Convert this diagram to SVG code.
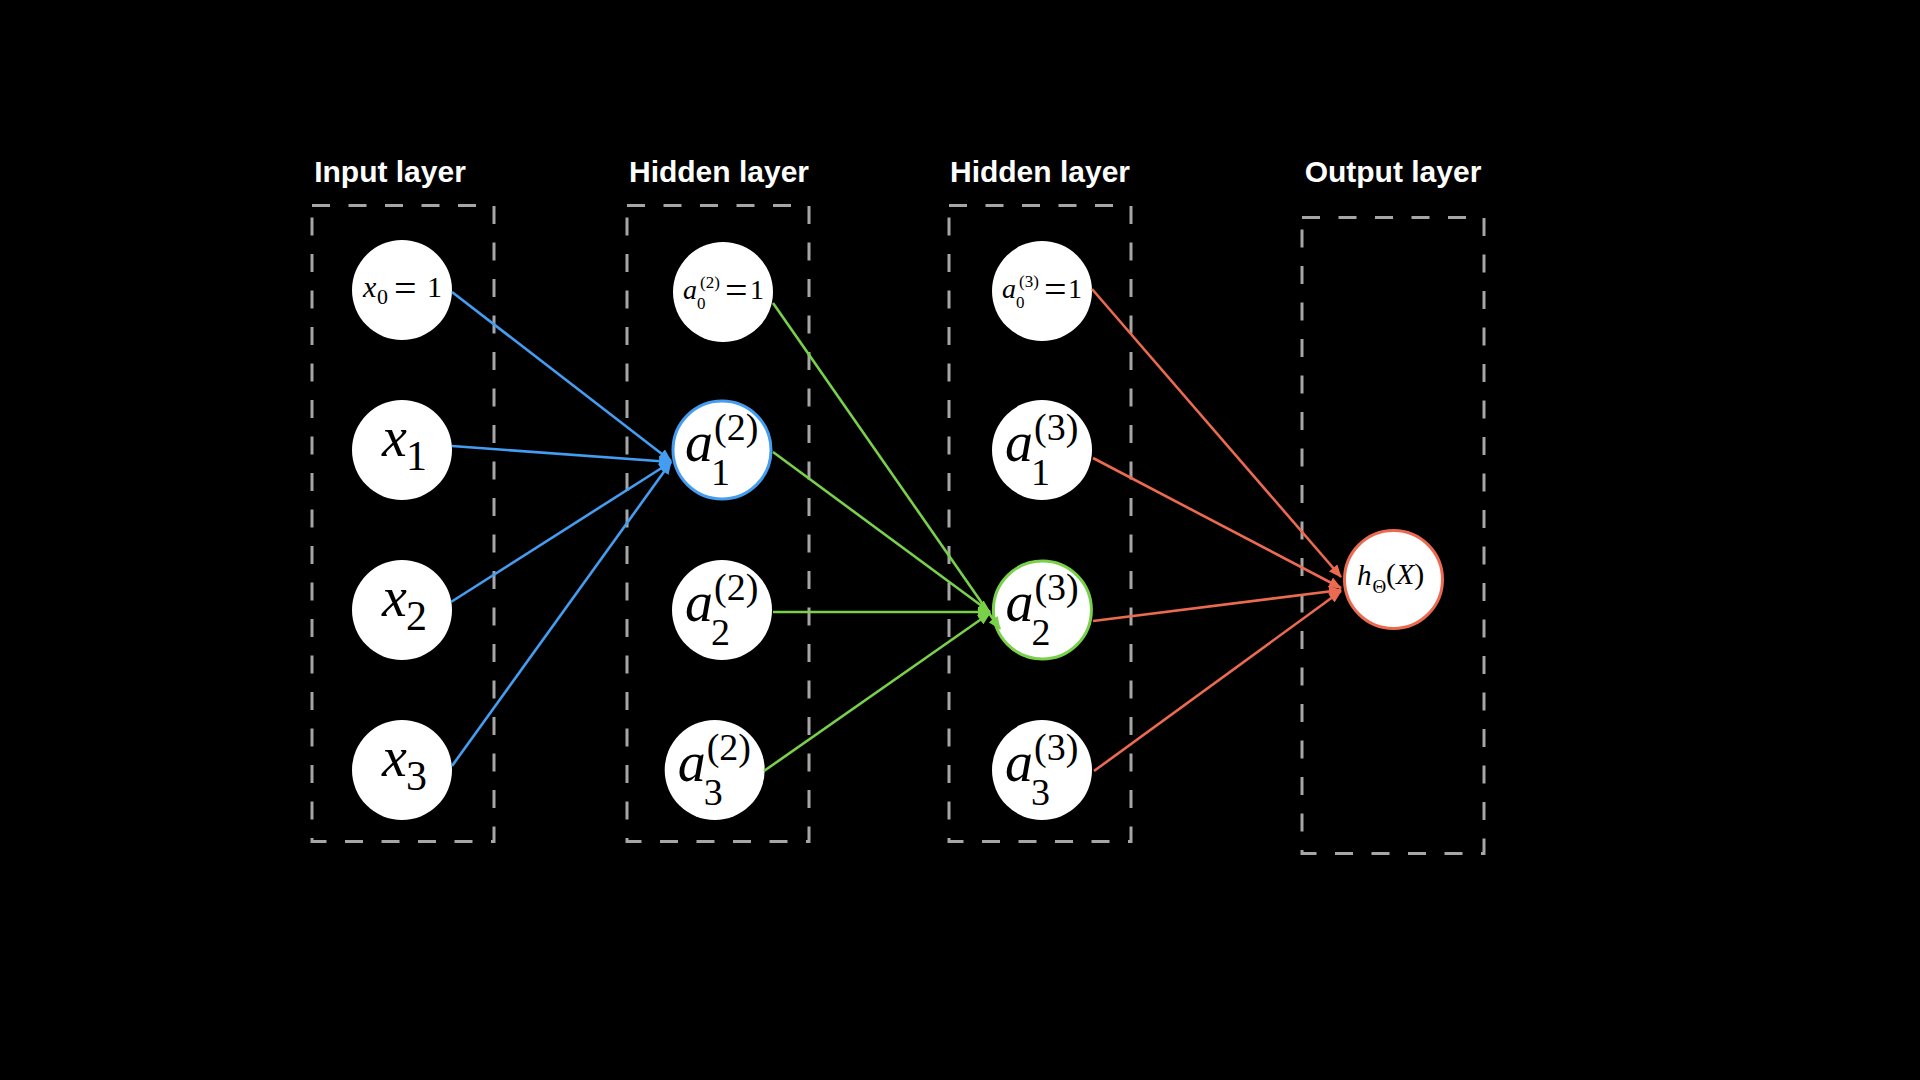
<svg xmlns="http://www.w3.org/2000/svg" width="1920" height="1080" viewBox="0 0 1920 1080">
<style>
.title{font-family:"Liberation Sans",Arial,sans-serif;font-weight:bold;font-size:30px;fill:#ffffff;text-anchor:middle}
.box{fill:none;stroke:#a6a6a6;stroke-width:3;stroke-dasharray:18 18.5}
.node{fill:#ffffff}
.m{font-family:"Liberation Serif","Times New Roman",serif;fill:#000000}
.i{font-style:italic}
.blue{stroke:#459df2;stroke-width:2.6;fill:none}
.green{stroke:#79d14a;stroke-width:2.6;fill:none}
.red{stroke:#ec6a50;stroke-width:2.6;fill:none}
</style>
<defs>
<marker id="ab" markerUnits="userSpaceOnUse" markerWidth="13" markerHeight="11" refX="12" refY="5.5" orient="auto"><path d="M0,0 L13,5.5 L0,11 z" fill="#459df2"/></marker>
<marker id="ag" markerUnits="userSpaceOnUse" markerWidth="13" markerHeight="11" refX="12" refY="5.5" orient="auto"><path d="M0,0 L13,5.5 L0,11 z" fill="#79d14a"/></marker>
<marker id="ar" markerUnits="userSpaceOnUse" markerWidth="13" markerHeight="11" refX="12" refY="5.5" orient="auto"><path d="M0,0 L13,5.5 L0,11 z" fill="#ec6a50"/></marker>
</defs>
<rect x="0" y="0" width="1920" height="1080" fill="#000000"/>

<g id="layers">
<text class="title" x="390" y="182">Input layer</text>
<text class="title" x="719" y="182">Hidden layer</text>
<text class="title" x="1040" y="182">Hidden layer</text>
<text class="title" x="1393" y="182">Output layer</text>
<rect class="box" x="312" y="205.5" width="182" height="636"/>
<rect class="box" x="627" y="205.5" width="182" height="636"/>
<rect class="box" x="949" y="205.5" width="182" height="636"/>
<rect class="box" x="1302" y="217.5" width="182" height="636"/>
</g>

<g id="x0">
<circle class="node" cx="402" cy="290" r="50"/>
<text class="m i" x="363" y="297" font-size="30">x</text>
<text class="m" x="377" y="304" font-size="22">0</text>
<text class="m" x="394" y="302" font-size="40">=</text>
<text class="m" x="427" y="297" font-size="30">1</text>
</g>
<g id="x1">
<circle class="node" cx="402" cy="450" r="50"/>
<text class="m i" x="382" y="456" font-size="56">x</text>
<text class="m" x="406" y="470" font-size="42">1</text>
</g>
<g id="x2">
<circle class="node" cx="402" cy="610" r="50"/>
<text class="m i" x="382" y="616" font-size="56">x</text>
<text class="m" x="406" y="630" font-size="42">2</text>
</g>
<g id="x3">
<circle class="node" cx="402" cy="770" r="50"/>
<text class="m i" x="382" y="776" font-size="56">x</text>
<text class="m" x="406" y="790" font-size="42">3</text>
</g>

<g id="a0_2">
<circle class="node" cx="723" cy="292" r="50"/>
<text class="m i" x="683" y="298.5" font-size="28">a</text>
<text class="m" x="697" y="309" font-size="17">0</text>
<text class="m" x="700" y="288" font-size="17">(2)</text>
<text class="m" x="725" y="304" font-size="40">=</text>
<text class="m" x="750" y="298.5" font-size="28">1</text>
</g>
<g id="a1_2">
<circle class="node" cx="722" cy="450" r="49" stroke="#459df2" stroke-width="3"/>
<text class="m i" x="685" y="461" font-size="56">a</text>
<text class="m" x="711" y="485" font-size="38">1</text>
<text class="m" x="714" y="440" font-size="38">(2)</text>
</g>
<g id="a2_2">
<circle class="node" cx="722" cy="610" r="50"/>
<text class="m i" x="685" y="621" font-size="56">a</text>
<text class="m" x="711" y="645" font-size="38">2</text>
<text class="m" x="714" y="600" font-size="38">(2)</text>
</g>
<g id="a3_2">
<circle class="node" cx="714.7" cy="770" r="50"/>
<text class="m i" x="677.7" y="781" font-size="56">a</text>
<text class="m" x="703.7" y="805" font-size="38">3</text>
<text class="m" x="706.7" y="760" font-size="38">(2)</text>
</g>

<g id="a0_3">
<circle class="node" cx="1042" cy="291" r="50"/>
<text class="m i" x="1002" y="297.5" font-size="28">a</text>
<text class="m" x="1016" y="308" font-size="17">0</text>
<text class="m" x="1019" y="287" font-size="17">(3)</text>
<text class="m" x="1044" y="303" font-size="40">=</text>
<text class="m" x="1068" y="297.5" font-size="28">1</text>
</g>
<g id="a1_3">
<circle class="node" cx="1042" cy="450" r="50"/>
<text class="m i" x="1005" y="461" font-size="56">a</text>
<text class="m" x="1031" y="485" font-size="38">1</text>
<text class="m" x="1034" y="440" font-size="38">(3)</text>
</g>
<g id="a2_3">
<circle class="node" cx="1042.4" cy="610" r="49" stroke="#79d14a" stroke-width="3"/>
<text class="m i" x="1005.4" y="621" font-size="56">a</text>
<text class="m" x="1031.4" y="645" font-size="38">2</text>
<text class="m" x="1034.4" y="600" font-size="38">(3)</text>
</g>
<g id="a3_3">
<circle class="node" cx="1042" cy="770" r="50"/>
<text class="m i" x="1005" y="781" font-size="56">a</text>
<text class="m" x="1031" y="805" font-size="38">3</text>
<text class="m" x="1034" y="760" font-size="38">(3)</text>
</g>

<g id="h">
<circle class="node" cx="1393.5" cy="579.5" r="49" stroke="#ec6a50" stroke-width="3"/>
<text class="m i" x="1357" y="585" font-size="29">h</text>
<text class="m" x="1372.5" y="593" font-size="19">Θ</text>
<text class="m" x="1386" y="584" font-size="30">(<tspan class="i">X</tspan>)</text>
</g>

<g id="connectors">
<line class="blue" x1="452" y1="292" x2="671" y2="461" marker-end="url(#ab)"/>
<line class="blue" x1="452" y1="446" x2="671" y2="462" marker-end="url(#ab)"/>
<line class="blue" x1="451" y1="602" x2="671" y2="462" marker-end="url(#ab)"/>
<line class="blue" x1="452" y1="766" x2="671" y2="462" marker-end="url(#ab)"/>
<line class="green" x1="773" y1="303" x2="1000" y2="629" marker-end="url(#ag)"/>
<line class="green" x1="773" y1="452" x2="990" y2="612" marker-end="url(#ag)"/>
<line class="green" x1="773" y1="612" x2="990" y2="612" marker-end="url(#ag)"/>
<line class="green" x1="764" y1="771" x2="990" y2="613" marker-end="url(#ag)"/>
<line class="red" x1="1092" y1="289" x2="1341" y2="577" marker-end="url(#ar)"/>
<line class="red" x1="1093" y1="458" x2="1341" y2="588" marker-end="url(#ar)"/>
<line class="red" x1="1093" y1="621" x2="1341" y2="590" marker-end="url(#ar)"/>
<line class="red" x1="1094" y1="771" x2="1341" y2="591" marker-end="url(#ar)"/>
</g>
</svg>
